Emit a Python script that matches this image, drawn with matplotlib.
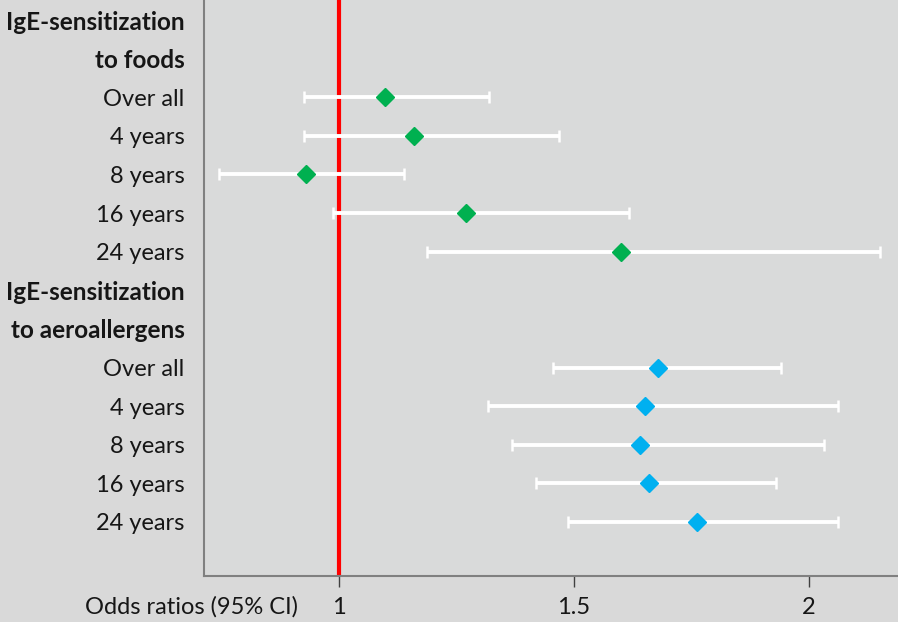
import numpy as np
import matplotlib.pyplot as plt

plt.rcParams['font.family'] = ['Lato', 'DejaVu Sans']

row_labels = ['IgE-sensitization', 'to foods',
              'Over all', '4 years', '8 years', '16 years', '24 years',
              'IgE-sensitization', 'to aeroallergens',
              'Over all', '4 years', '8 years', '16 years', '24 years']
header_rows = [0, 1, 7, 8]

food_rows = [2, 3, 4, 5, 6]
food_or = [1.098, 1.160, 0.930, 1.270, 1.600]
food_lo = [0.926, 0.926, 0.745, 0.987, 1.187]
food_hi = [1.319, 1.468, 1.138, 1.617, 2.151]

aero_rows = [9, 10, 11, 12, 13]
aero_or = [1.679, 1.651, 1.640, 1.660, 1.762]
aero_lo = [1.455, 1.317, 1.368, 1.419, 1.487]
aero_hi = [1.940, 2.062, 2.032, 1.930, 2.062]

xticks = [1, 1.5, 2]
xtick_labels = ['1', '1.5', '2']


def draw_group(ax, rows, est, lo, hi, color):
    est = np.array(est)
    err = [est - np.array(lo), np.array(hi) - est]
    ax.errorbar(est, rows, xerr=err, fmt='none', ecolor='white',
                elinewidth=2.8, capsize=4.5, capthick=1.8, zorder=3)
    ax.plot(est, rows, 'D', color=color, markersize=9.5, zorder=4)


fig = plt.figure(figsize=(8.98, 6.22), dpi=100, facecolor='#d9d9d9')
ax = fig.add_axes([204 / 898, 1 - 576 / 622, 1 - 204 / 898, 576 / 622])
ax.set_facecolor('#d9dada')
ax.set_xlim(0.713, 2.189)
ax.set_ylim(14.40, -0.52)

ax.axvline(1.0, color='#ff0000', linewidth=3, zorder=2)
draw_group(ax, food_rows, food_or, food_lo, food_hi, '#00b050')
draw_group(ax, aero_rows, aero_or, aero_lo, aero_hi, '#00b0f0')

ax.set_yticks(range(len(row_labels)))
ax.set_yticklabels(row_labels, fontsize=17, color='#161616')
for i, lab in enumerate(ax.get_yticklabels()):
    if i in header_rows:
        lab.set_fontweight('bold')
        lab.set_fontsize(17.5)
ax.tick_params(axis='y', length=0, pad=14)

ax.set_xticks(xticks)
ax.set_xticklabels(xtick_labels, fontsize=17, color='#161616')
ax.tick_params(axis='x', direction='out', length=8, width=1, color='#404040', pad=7)

for s in ['top', 'right']:
    ax.spines[s].set_visible(False)
for s in ['left', 'bottom']:
    ax.spines[s].set_color('#808080')
    ax.spines[s].set_linewidth(1.5)

fig.text(85 / 898, 1 - 607 / 622, 'Odds ratios (95% CI)', fontsize=17,
         color='#161616', ha='left', va='center')

fig.savefig('out.png', dpi=100, facecolor=fig.get_facecolor())
